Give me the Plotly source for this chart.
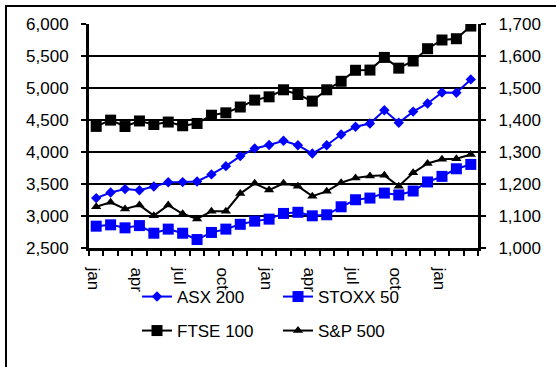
import plotly.graph_objects as go

# Monthly index levels, Jan (year 1) through Mar (year 3)
months = ["jan", "feb", "mar", "apr", "may", "jun", "jul", "aug", "sep", "oct", "nov", "dec",
          "jan", "feb", "mar", "apr", "may", "jun", "jul", "aug", "sep", "oct", "nov", "dec",
          "jan", "feb", "mar"]

asx200 = [3280, 3368, 3420, 3402, 3462, 3527, 3530, 3540, 3650, 3779, 3936, 4056,
          4110, 4175, 4106, 3976, 4106, 4273, 4394, 4446, 4652, 4456, 4631, 4758,
          4930, 4925, 5134]
stoxx50 = [2841, 2862, 2815, 2850, 2731, 2795, 2731, 2632, 2743, 2795, 2870, 2920,
           2951, 3040, 3058, 3003, 3019, 3144, 3254, 3280, 3358, 3329, 3390, 3532,
           3619, 3738, 3806]
ftse100 = [4400, 4498, 4398, 4485, 4430, 4468, 4410, 4446, 4575, 4612, 4703, 4811,
           4862, 4972, 4898, 4795, 4972, 5105, 5277, 5280, 5478, 5310, 5422, 5614,
           5750, 5770, 5968]
sp500 = [1129, 1143, 1122, 1134, 1101, 1134, 1107, 1091, 1115, 1115, 1170, 1202,
         1181, 1202, 1193, 1162, 1177, 1204, 1219, 1225, 1227, 1193, 1235, 1264,
         1277, 1279, 1292]

left_ticks = [2500, 3000, 3500, 4000, 4500, 5000, 5500, 6000]
right_ticks = [1000, 1100, 1200, 1300, 1400, 1500, 1600, 1700]

FONT = "Liberation Sans, Arial, Helvetica, sans-serif"
FS = 17
BLUE = "#0000FF"
BLACK = "#000000"

W, H = 556, 367
ML, MR, MT, MB = 89, 78, 24, 119
PW, PH = W - ML - MR, H - MT - MB

x = list(range(len(months)))
label_pos = [i - 0.2 for i in x[::3]]
label_txt = months[::3]

fig = go.Figure()

fig.add_trace(go.Scatter(
    x=x, y=asx200, name="ASX 200", mode="lines+markers",
    line=dict(color=BLUE, width=2),
    marker=dict(symbol="diamond", size=8, color=BLUE),
    legend="legend"))
fig.add_trace(go.Scatter(
    x=x, y=stoxx50, name="STOXX 50", mode="lines+markers",
    line=dict(color=BLUE, width=2),
    marker=dict(symbol="square", size=11, color=BLUE),
    legend="legend"))
fig.add_trace(go.Scatter(
    x=x, y=ftse100, name="FTSE 100", mode="lines+markers",
    line=dict(color=BLACK, width=2),
    marker=dict(symbol="square", size=11, color=BLACK),
    legend="legend2"))
fig.add_trace(go.Scatter(
    x=x, y=sp500, name="S&P 500", mode="lines+markers", yaxis="y2",
    line=dict(color=BLACK, width=2),
    marker=dict(symbol="triangle-up", size=9, color=BLACK),
    legend="legend2"))


def px_x(p):
    return (p - ML) / PW


def px_y(p):
    return (H - MB - p) / PH


legend_common = dict(
    orientation="h", xanchor="left", yanchor="middle",
    font=dict(family=FONT, size=FS, color=BLACK),
    bgcolor="rgba(0,0,0,0)", entrywidth=96, tracegroupgap=0,
    itemclick=False, itemdoubleclick=False,
)

fig.update_layout(
    width=W, height=H,
    margin=dict(l=ML, r=MR, t=MT, b=MB, pad=0),
    paper_bgcolor="white", plot_bgcolor="white",
    font=dict(family=FONT, size=FS, color=BLACK),
    showlegend=True,
    legend=dict(x=px_x(137), y=px_y(297), **legend_common),
    legend2=dict(x=px_x(137), y=px_y(331), **legend_common),
    xaxis=dict(
        range=[-0.5, len(months) - 0.5],
        tickmode="array", tickvals=label_pos, ticktext=label_txt,
        tickangle=90, ticks="", ticklabelstandoff=13,
        tickfont=dict(family=FONT, size=FS, color=BLACK),
        showgrid=False, zeroline=False,
        showline=True, linecolor=BLACK, linewidth=3,
        minor=dict(tickmode="linear", tick0=-0.5, dtick=1,
                   ticks="outside", ticklen=5, tickwidth=2, tickcolor=BLACK,
                   showgrid=False),
    ),
    yaxis=dict(
        range=[2500, 6000], tickmode="array", tickvals=left_ticks,
        tickformat=",d", ticks="outside", ticklen=5, tickwidth=2, tickcolor=BLACK,
        ticklabelstandoff=9,
        tickfont=dict(family=FONT, size=FS, color=BLACK),
        showgrid=True, gridcolor=BLACK, gridwidth=2, zeroline=False,
        showline=True, linecolor=BLACK, linewidth=3,
    ),
    yaxis2=dict(
        range=[1000, 1700], tickmode="array", tickvals=right_ticks,
        tickformat=",d", ticks="outside", ticklen=5, tickwidth=2, tickcolor=BLACK,
        ticklabelstandoff=9,
        tickfont=dict(family=FONT, size=FS, color=BLACK),
        overlaying="y", side="right", showgrid=False, zeroline=False,
        showline=True, linecolor=BLACK, linewidth=3,
    ),
    shapes=[dict(
        type="rect", xref="paper", yref="paper",
        x0=px_x(6), x1=px_x(620), y0=px_y(430), y1=px_y(6),
        line=dict(color=BLACK, width=2), fillcolor="rgba(0,0,0,0)", layer="below",
    )],
)

fig.write_html("out.html")
